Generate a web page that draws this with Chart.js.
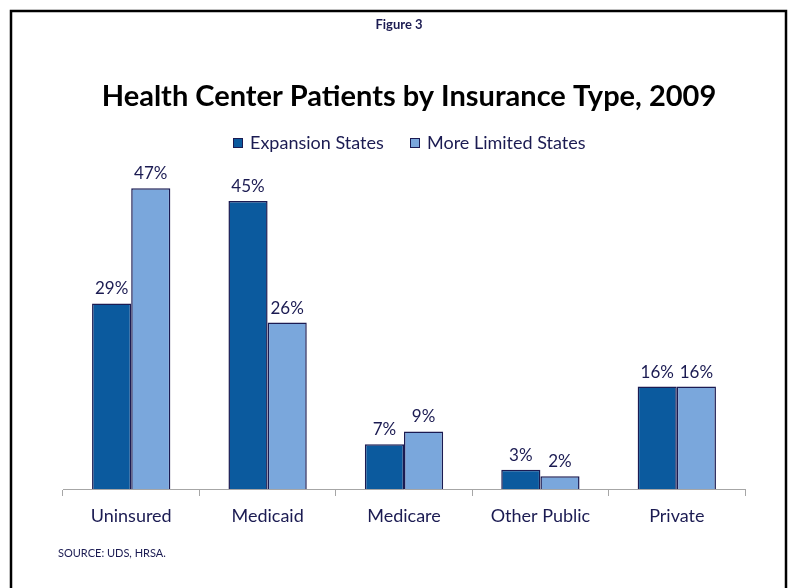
<!DOCTYPE html>
<html>
<head>
<meta charset="utf-8">
<script src="https://cdn.jsdelivr.net/npm/chart.js@4.4.1/dist/chart.umd.min.js"></script>
<style>
  body { margin: 0; background: #fff; }
  #wrap { width: 788px; height: 588px; position: relative; }
</style>
</head>
<body>
<div id="wrap"><canvas id="chart" width="788" height="588"></canvas></div>
<script>
// Данные графика
const categories = ['Uninsured', 'Medicaid', 'Medicare', 'Other Public', 'Private'];
const seriesNames = ['Expansion States', 'More Limited States'];
const expansionValues = [29, 45, 7, 3, 16];
const limitedValues = [47, 26, 9, 2, 16];
const seriesColors = ['#0b5a9e', '#7aa7dc'];

const FONT = 'Lato, "Open Sans", sans-serif';
const NAVY = '#1b1b52';

// Рамка, заголовки, легенда и подписи значений
const decorPlugin = {
  id: 'decor',
  afterDraw(chart) {
    const ctx = chart.ctx;
    ctx.save();

    // рамка
    ctx.strokeStyle = '#000';
    ctx.lineWidth = 2.5;
    ctx.strokeRect(11, 11, 775, 600);

    // заголовки
    ctx.textAlign = 'center';
    ctx.textBaseline = 'middle';
    ctx.fillStyle = NAVY;
    ctx.font = 'bold 13px ' + FONT;
    ctx.fillText('Figure 3', 399, 25);
    ctx.fillStyle = '#000';
    ctx.font = 'bold 29px ' + FONT;
    ctx.fillText('Health Center Patients by Insurance Type, 2009', 409, 97);

    // легенда
    ctx.font = '18px ' + FONT;
    ctx.textAlign = 'left';
    const legendX = [233, 410];
    chart.data.datasets.forEach(function(ds, i) {
      ctx.fillStyle = ds.backgroundColor;
      ctx.fillRect(legendX[i], 138, 10, 10);
      ctx.strokeStyle = NAVY;
      ctx.lineWidth = 1;
      ctx.strokeRect(legendX[i] + 0.5, 138.5, 9, 9);
      ctx.fillStyle = NAVY;
      ctx.fillText(ds.label, legendX[i] + 17, 143);
    });

    // подписи значений над столбцами
    ctx.textAlign = 'center';
    ctx.textBaseline = 'alphabetic';
    ctx.font = '17px ' + FONT;
    ctx.fillStyle = NAVY;
    chart.data.datasets.forEach(function(ds, i) {
      chart.getDatasetMeta(i).data.forEach(function(bar, j) {
        ctx.fillText(ds.data[j] + '%', bar.x, bar.y - 9);
      });
    });

    // источник
    ctx.textAlign = 'left';
    ctx.textBaseline = 'middle';
    ctx.font = '11px ' + FONT;
    ctx.fillText('SOURCE: UDS, HRSA.', 58, 553);
    ctx.restore();
  }
};

const ctx = document.getElementById('chart').getContext('2d');
new Chart(ctx, {
  type: 'bar',
  data: {
    labels: categories,
    datasets: [
      { label: seriesNames[0], data: expansionValues, backgroundColor: seriesColors[0], borderColor: NAVY, borderWidth: 1.5 },
      { label: seriesNames[1], data: limitedValues, backgroundColor: seriesColors[1], borderColor: NAVY, borderWidth: 1.5 }
    ]
  },
  options: {
    responsive: false,
    animation: false,
    devicePixelRatio: 1,
    layout: { padding: { top: 169, left: 63, right: 43, bottom: 0 } },
    datasets: { bar: { categoryPercentage: 0.574, barPercentage: 1 } },
    plugins: {
      legend: { display: false },
      title: { display: false },
      tooltip: { enabled: false }
    },
    scales: {
      y: { display: false, min: 0, max: 50 },
      x: {
        afterFit: function(scale) { scale.height = 99; },
        border: { display: true, color: '#a6a6a6', width: 1 },
        grid: { offset: true, drawOnChartArea: false, drawTicks: true, tickLength: 7, color: '#a6a6a6' },
        ticks: { color: NAVY, font: { family: FONT, size: 18 }, padding: 9 }
      }
    }
  },
  plugins: [decorPlugin]
});
</script>
</body>
</html>
